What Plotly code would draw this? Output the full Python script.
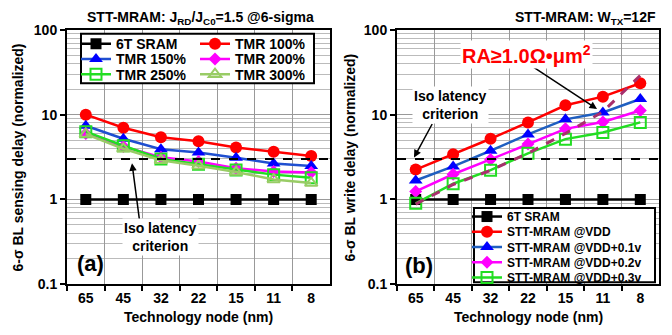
import plotly.graph_objects as go

W, H = 672, 335

nodes = ["65", "45", "32", "22", "15", "11", "8"]

# (a) sensing delay
sram_a = [1, 1, 1, 1, 1, 1, 1]
tmr100 = [10.0, 7.0, 5.4, 4.85, 4.1, 3.65, 3.25]
tmr150 = [7.4, 5.2, 3.9, 3.58, 3.1, 2.65, 2.47]
tmr200 = [6.0, 4.2, 3.15, 2.8, 2.33, 2.13, 2.08]
tmr250 = [6.3, 4.3, 3.0, 2.6, 2.23, 1.96, 1.8]
tmr300 = [5.9, 3.95, 2.9, 2.5, 2.1, 1.72, 1.56]

# (b) write delay
sram_b = [1, 1, 1, 1, 1, 1, 1]
vdd = [2.25, 3.4, 5.2, 8.1, 12.9, 16.3, 23.5]
vdd01 = [1.67, 2.45, 3.75, 5.85, 8.8, 10.6, 15.3]
vdd02 = [1.24, 1.98, 2.96, 4.5, 6.8, 8.2, 11.2]
vdd03 = [0.9, 1.53, 2.21, 3.5, 5.14, 6.15, 8.1]
ra_line = [0.88, 1.5, 2.2, 3.5, 6.0, 10.8, 29]

iso_level = 3
ytick_vals = [0.1, 1, 10, 100]
ytick_text = ["0.1", "1", "10", "100"]

FONT = "Liberation Sans, Arial, sans-serif"

def px(x):
    return x / W

def py(y):
    return 1 - y / H

fig = go.Figure()
legends = {}
leg_count = [0]

def new_legend(x, y, size):
    leg_count[0] += 1
    lid = "legend" if leg_count[0] == 1 else "legend%d" % leg_count[0]
    legends[lid] = dict(bgcolor="rgba(0,0,0,0)", borderwidth=0, itemwidth=30,
                        xanchor="left", yanchor="middle", x=px(x), y=py(y),
                        font=dict(family=FONT, size=size, weight="bold"),
                        itemclick=False, itemdoubleclick=False)
    return lid

def add(x, y, name, color, symbol, size, xa, ya, legend, linecolor=None, open_=False, lw=2.5):
    fig.add_trace(go.Scatter(
        x=x, y=y, name=name, mode="lines+markers", xaxis=xa, yaxis=ya, legend=legend,
        line=dict(color=linecolor or color, width=lw),
        marker=dict(symbol=symbol, size=size, color=color,
                    line=dict(color=color, width=2 if open_ else 0)),
    ))

# left plot legend rows
L1 = new_legend(76, 38, 14)
L2 = new_legend(76, 54, 14)
L3 = new_legend(76, 70, 14)
L4 = new_legend(195, 38, 14)
L5 = new_legend(195, 54, 14)
L6 = new_legend(195, 70, 14)

add(nodes, sram_a, "6T SRAM", "#000000", "square", 11, "x", "y", L1)
add(nodes, tmr100, "TMR 100%", "#FF0000", "circle", 12, "x", "y", L4)
add(nodes, tmr150, "TMR 150%", "#0000FF", "triangle-up", 12, "x", "y", L2, linecolor="#1F4FD0")
add(nodes, tmr200, "TMR 200%", "#FF00FF", "diamond", 10, "x", "y", L5)
add(nodes, tmr250, "TMR 250%", "#22DD22", "square-open", 11, "x", "y", L3, open_=True)
add(nodes, tmr300, "TMR 300%", "#99CC66", "triangle-up-open", 11, "x", "y", L6, open_=True)

# right plot legend rows
R1 = new_legend(467, 219, 12)
R2 = new_legend(467, 235, 12)
R3 = new_legend(467, 251, 12)
R4 = new_legend(467, 267, 12)
R5 = new_legend(467, 283, 12)

add(nodes, sram_b, "6T SRAM", "#000000", "square", 11, "x2", "y2", R1)
add(nodes, vdd, "STT-MRAM @VDD", "#FF0000", "circle", 12, "x2", "y2", R2)
add(nodes, vdd01, "STT-MRAM @VDD+0.1v", "#0000FF", "triangle-up", 12, "x2", "y2", R3, linecolor="#1F5FC0")
add(nodes, vdd02, "STT-MRAM @VDD+0.2v", "#FF00FF", "diamond", 10, "x2", "y2", R4)
add(nodes, vdd03, "STT-MRAM @VDD+0.3v", "#22DD22", "square-open", 11, "x2", "y2", R5, open_=True)
fig.add_trace(go.Scatter(x=nodes, y=ra_line, mode="lines", xaxis="x2", yaxis="y2",
                         showlegend=False, line=dict(color="#A8306C", width=3, dash="dash")))

tickfont = dict(family=FONT, size=14, color="black", weight="bold")

def xax(domain):
    return dict(domain=domain, type="category", range=[-0.5, 6.5], tickson="boundaries",
                ticks="outside", ticklen=5, tickwidth=2, tickcolor="black",
                showgrid=True, gridcolor="#999999", gridwidth=1,
                showline=True, linecolor="black", linewidth=2, mirror=True,
                tickfont=tickfont, zeroline=False, fixedrange=True)

def yax(anchor):
    return dict(domain=[py(290), py(23)], type="log", range=[-1, 2], anchor=anchor,
                tickvals=ytick_vals, ticktext=ytick_text,
                ticks="outside", ticklen=5, tickwidth=2, tickcolor="black",
                showgrid=True, gridcolor="#999999", gridwidth=1,
                minor=dict(showgrid=True, gridcolor="#BBBBBB", gridwidth=1, dtick="D1", ticks=""),
                showline=True, linecolor="black", linewidth=2, mirror=True,
                tickfont=tickfont, zeroline=False, fixedrange=True)

fig.update_layout(
    width=W, height=H, margin=dict(l=0, r=0, t=0, b=0),
    paper_bgcolor="white", plot_bgcolor="white",
    font=dict(family=FONT, color="black", weight="bold"),
    xaxis=dict(xax([px(67), px(330)]), anchor="y"),
    yaxis=yax("x"),
    xaxis2=dict(xax([px(397), px(659)]), anchor="y2"),
    yaxis2=yax("x2"),
    showlegend=True,
    **legends,
)

shapes = [
    dict(type="line", xref="x domain", yref="y", x0=0, x1=1, y0=iso_level, y1=iso_level,
         line=dict(color="black", width=2, dash="dash")),
    dict(type="line", xref="x2 domain", yref="y2", x0=0, x1=1, y0=iso_level, y1=iso_level,
         line=dict(color="black", width=2, dash="dash")),
    dict(type="rect", xref="paper", yref="paper", x0=px(81), x1=px(314), y0=py(79), y1=py(27),
         line=dict(color="black", width=2), fillcolor="white", layer="above"),
    dict(type="rect", xref="paper", yref="paper", x0=px(474), x1=px(655), y0=py(288), y1=py(210),
         line=dict(color="black", width=2), fillcolor="white", layer="above"),
]
fig.update_layout(shapes=shapes)

def txt(x, y, text, size, color="black", bg=None, xanchor="center", angle=0):
    d = dict(x=px(x), y=py(y), xref="paper", yref="paper", text=text, showarrow=False,
             xanchor=xanchor, yanchor="middle", textangle=angle,
             font=dict(family=FONT, size=size, color=color, weight="bold"))
    if bg:
        d["bgcolor"] = bg
    return d

def arrow(x_head, y_head, x_tail, y_tail):
    return dict(x=px(x_head), y=py(y_head), xref="paper", yref="paper", text="",
                showarrow=True, ax=x_tail - x_head, ay=y_tail - y_head,
                arrowhead=2, arrowsize=1, arrowwidth=1.5, arrowcolor="black")

anns = [
    txt(200, 11, "STT-MRAM: J<sub>RD</sub>/J<sub>C0</sub>=1.5 @6-sigma", 14),
    txt(658, 11, "STT-MRAM: W<sub>TX</sub>=12F", 14, xanchor="right"),
    txt(18, 157, "6-σ BL sensing delay (normalized)", 14, angle=-90),
    txt(350, 157, "6-σ BL write delay (normalized)", 14, angle=-90),
    txt(198, 324, "Technology node (nm)", 14),
    txt(528, 324, "Technology node (nm)", 14),
    txt(90, 268, "(a)", 22),
    txt(419, 270, "(b)", 22),
    arrow(132, 163, 140, 224),
    txt(160, 241, "Iso latency<br>criterion", 14, bg="white"),
    arrow(414, 157, 433, 122),
    txt(451, 102, "Iso latency<br>criterion", 14, bg="white"),
    arrow(597, 106, 530, 62),
    txt(526, 49, "RA≥1.0Ω•μm<sup>2</sup>", 20, color="#FF0000", bg="white"),
]
fig.update_layout(annotations=anns)

fig.write_html("out.html")
